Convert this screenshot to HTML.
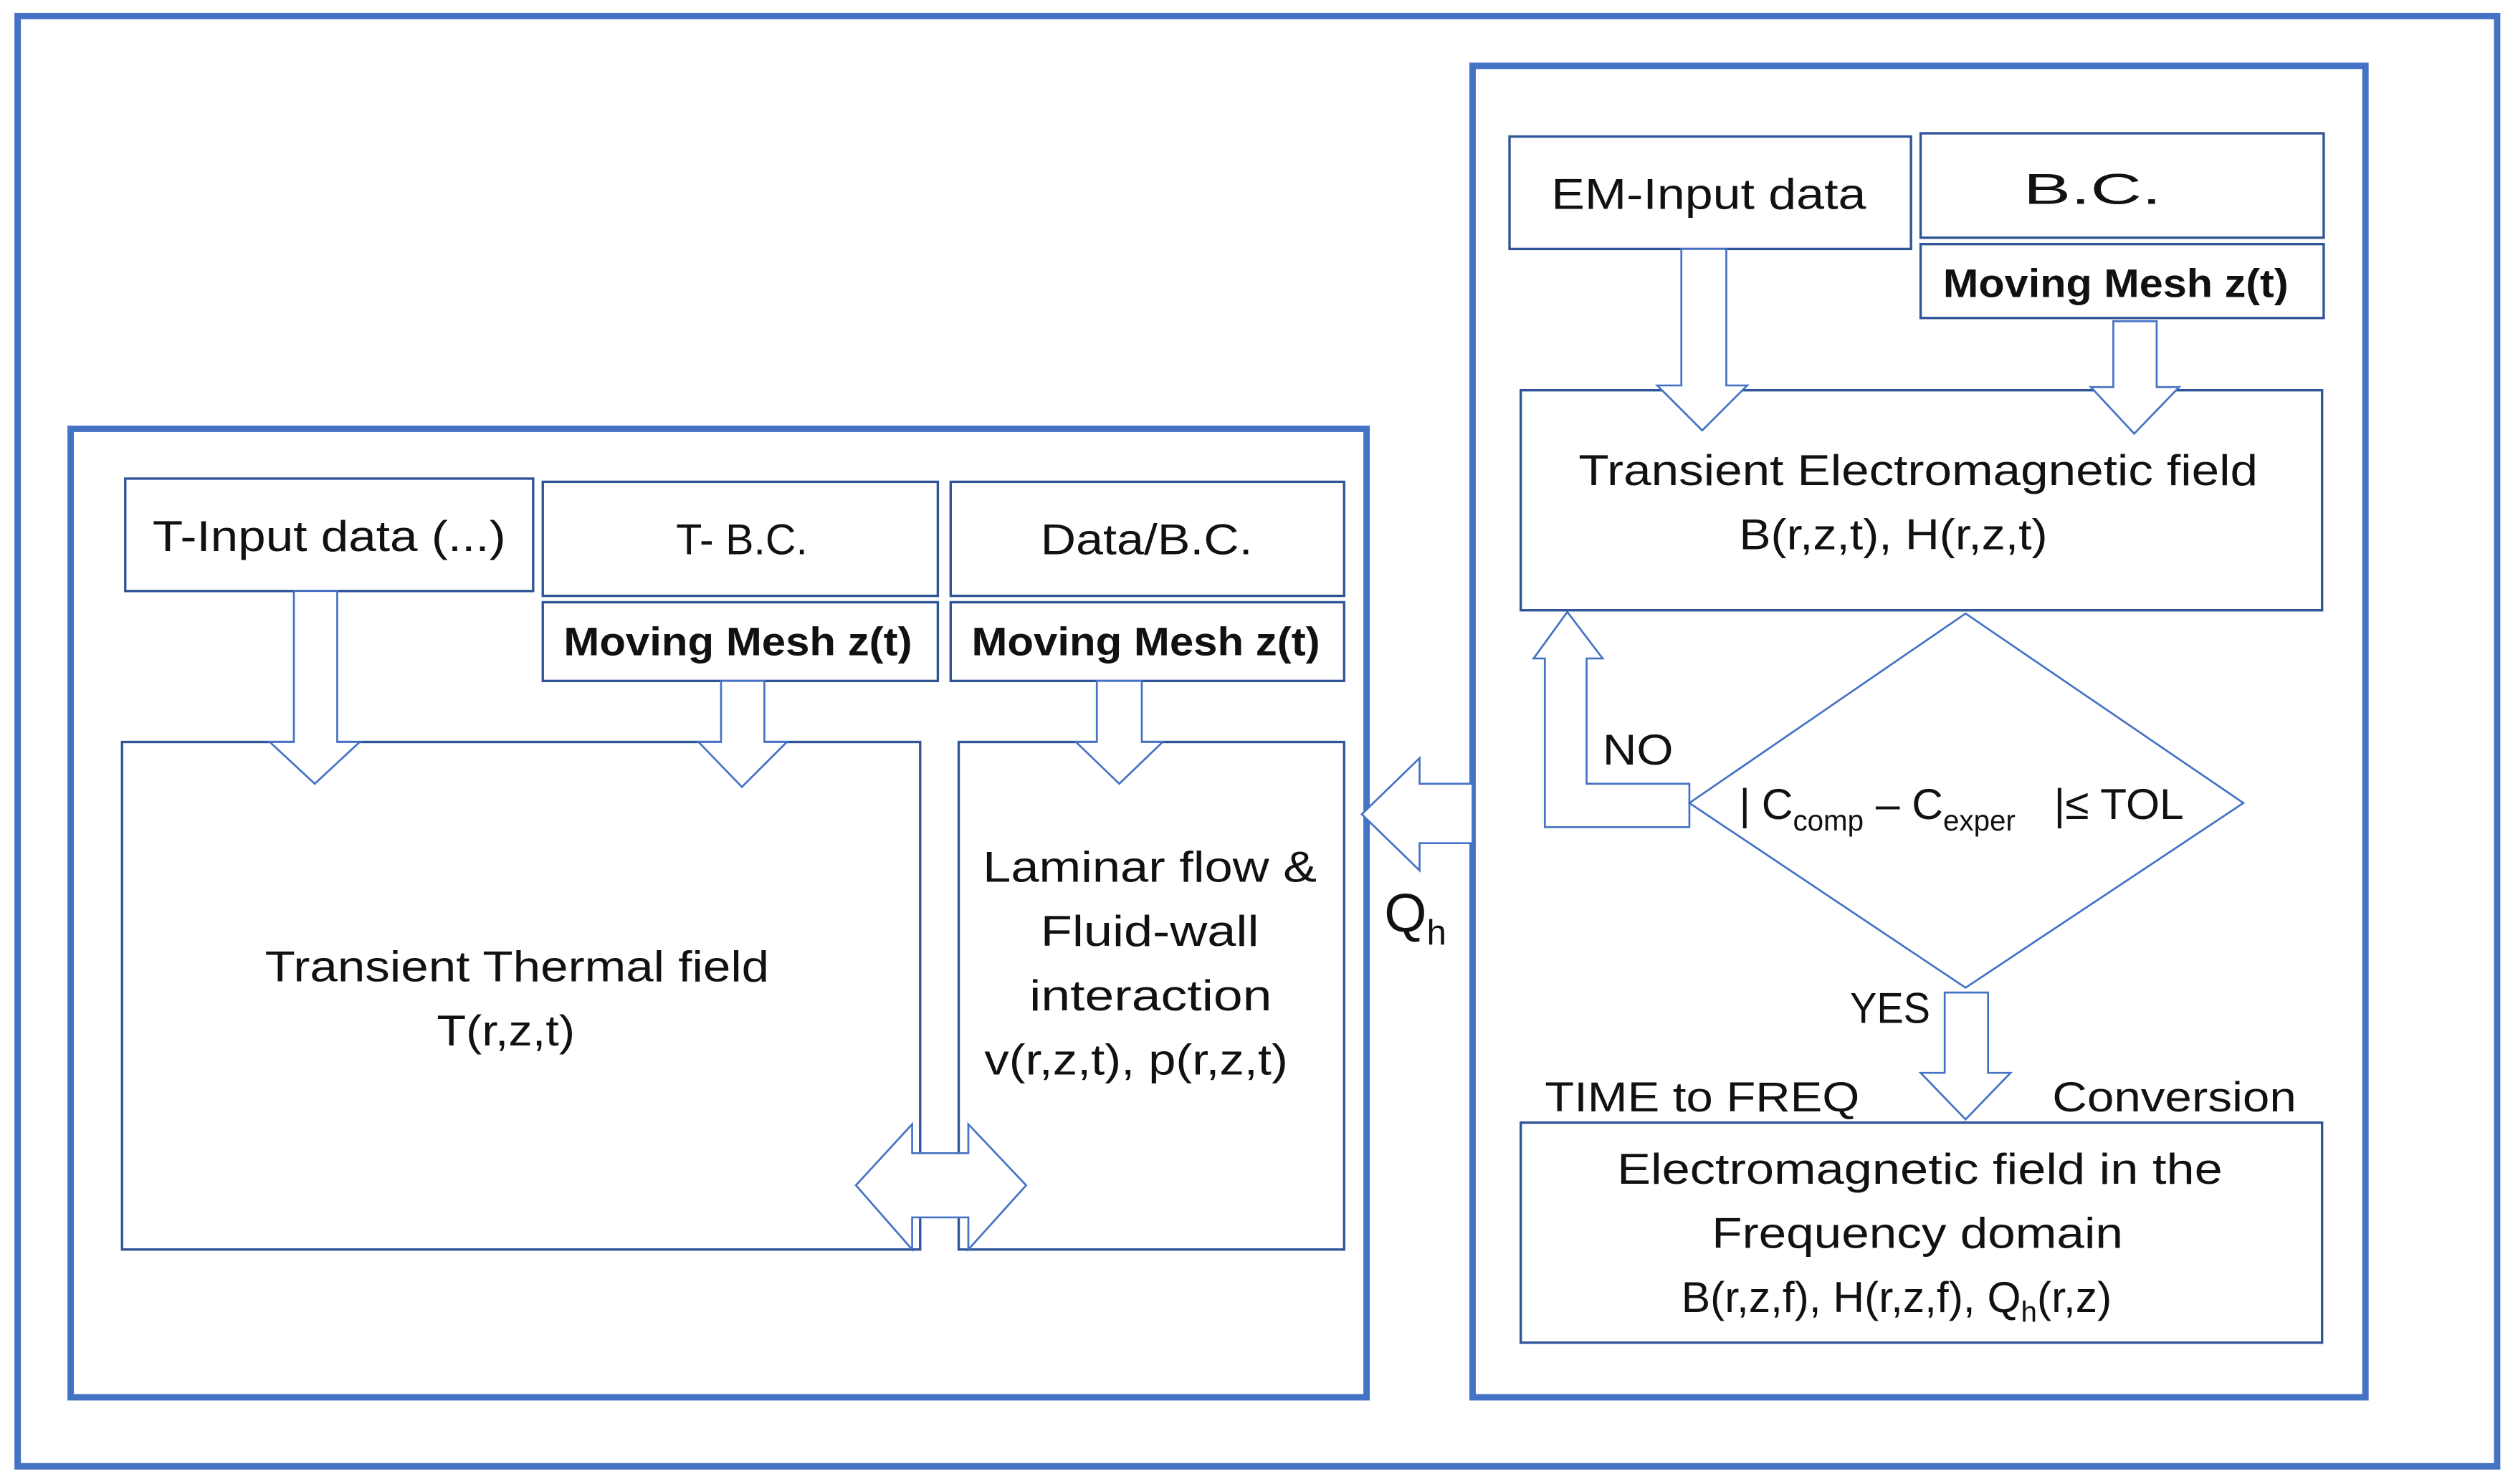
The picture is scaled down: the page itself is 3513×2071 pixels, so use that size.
<!DOCTYPE html>
<html><head><meta charset="utf-8"><style>
html,body{margin:0;padding:0;background:#fff;}
svg{display:block;}
text{font-family:"Liberation Sans",sans-serif;fill:#111;}
</style></head><body>
<svg width="3513" height="2071" viewBox="0 0 1568 924" preserveAspectRatio="none" xmlns="http://www.w3.org/2000/svg">
<rect width="1568" height="924" fill="#fff"/>
<g fill="none" stroke="#4472c4" stroke-width="4">
<rect x="11" y="10" width="1544" height="903"/>
<rect x="44" y="267" width="807" height="603"/>
<rect x="917" y="41" width="556" height="829"/>
</g>
<g fill="#fff" stroke="#2f5597" stroke-width="1.5">
<rect x="78" y="298" width="254" height="70"/>
<rect x="338" y="300" width="246" height="71"/>
<rect x="338" y="375" width="246" height="49"/>
<rect x="592" y="300" width="245" height="71"/>
<rect x="592" y="375" width="245" height="49"/>
<rect x="76" y="462" width="497" height="316"/>
<rect x="597" y="462" width="240" height="316"/>
<rect x="940" y="85" width="250" height="70"/>
<rect x="1196" y="83" width="251" height="65"/>
<rect x="1196" y="152" width="251" height="46"/>
<rect x="947" y="243" width="499" height="137"/>
<rect x="947" y="699" width="499" height="137"/>
</g>
<g fill="#fff" stroke="#4472c4" stroke-width="1.2">
<polygon points="183,368 210,368 210,462 224,462 196,488 168,462 183,462"/>
<polygon points="449,424 476,424 476,462 490,462 462,490 435,462 449,462"/>
<polygon points="683,424 711,424 711,462 724,462 697,488 670,462 683,462"/>
<polygon points="1047,155 1075,155 1075,240 1088,240 1060,268 1032,240 1047,240"/>
<polygon points="1316,200 1343,200 1343,241 1357,241 1329,270 1302,241 1316,241"/>
<polygon points="1211,618 1238,618 1238,668 1252,668 1224,697 1196,668 1211,668"/>
<polygon points="917,488 884,488 884,472 848,507 884,542 884,525 917,525"/>
<polygon points="1052,488 988,488 988,410 998,410 976,381 955,410 962,410 962,515 1052,515"/>
<polygon points="533,738 568,700 568,718 603,718 603,700 639,738 603,778 603,758 568,758 568,778"/>
<polygon points="1224,382 1397,500 1224,615 1052,500"/>
</g>
<g font-size="27">
<text x="95" y="343" textLength="220" lengthAdjust="spacingAndGlyphs">T-Input data (...)</text>
<text x="421" y="345" textLength="82" lengthAdjust="spacingAndGlyphs">T- B.C.</text>
<text x="648" y="345" textLength="132" lengthAdjust="spacingAndGlyphs">Data/B.C.</text>
<text x="351" y="408" font-weight="bold" font-size="25" textLength="217" lengthAdjust="spacingAndGlyphs">Moving Mesh z(t)</text>
<text x="605" y="408" font-weight="bold" font-size="25" textLength="217" lengthAdjust="spacingAndGlyphs">Moving Mesh z(t)</text>
<text x="966" y="130" textLength="196" lengthAdjust="spacingAndGlyphs">EM-Input data</text>
<text x="1260" y="127" textLength="86" lengthAdjust="spacingAndGlyphs">B.C.</text>
<text x="1210" y="185" font-weight="bold" font-size="25" textLength="215" lengthAdjust="spacingAndGlyphs">Moving Mesh z(t)</text>
<text x="983" y="302" textLength="423" lengthAdjust="spacingAndGlyphs">Transient Electromagnetic field</text>
<text x="1083" y="342" textLength="192" lengthAdjust="spacingAndGlyphs">B(r,z,t), H(r,z,t)</text>
<text x="165" y="611" textLength="314" lengthAdjust="spacingAndGlyphs">Transient Thermal field</text>
<text x="272" y="651" textLength="86" lengthAdjust="spacingAndGlyphs">T(r,z,t)</text>
<text x="612" y="549" textLength="208" lengthAdjust="spacingAndGlyphs">Laminar flow &amp;</text>
<text x="648" y="589" textLength="136" lengthAdjust="spacingAndGlyphs">Fluid-wall</text>
<text x="641" y="629" textLength="151" lengthAdjust="spacingAndGlyphs">interaction</text>
<text x="613" y="669" textLength="189" lengthAdjust="spacingAndGlyphs">v(r,z,t), p(r,z,t)</text>
<text x="1007" y="737" textLength="377" lengthAdjust="spacingAndGlyphs">Electromagnetic field in the</text>
<text x="1066" y="777" textLength="256" lengthAdjust="spacingAndGlyphs">Frequency domain</text>
<text x="1047" y="817">B(r,z,f), H(r,z,f), Q<tspan font-size="18" dy="6">h</tspan><tspan dy="-6">(r,z)</tspan></text>
<text x="998" y="476" textLength="44" lengthAdjust="spacingAndGlyphs">NO</text>
<text x="1152" y="637" textLength="50" lengthAdjust="spacingAndGlyphs">YES</text>
<text x="962" y="692" font-size="26" textLength="196" lengthAdjust="spacingAndGlyphs">TIME  to FREQ</text>
<text x="1278" y="692" font-size="26" textLength="152" lengthAdjust="spacingAndGlyphs">Conversion</text>
<text x="1083" y="510">|</text>
<text x="1097" y="510">C<tspan font-size="18" dy="7">comp</tspan><tspan dy="-7"> – C</tspan><tspan font-size="18" dy="7">exper</tspan></text>
<text x="1279" y="510">|≤ TOL</text>
<text x="862" y="580" font-size="34">Q<tspan font-size="22" dy="8">h</tspan></text>
</g>
</svg>
</body></html>
